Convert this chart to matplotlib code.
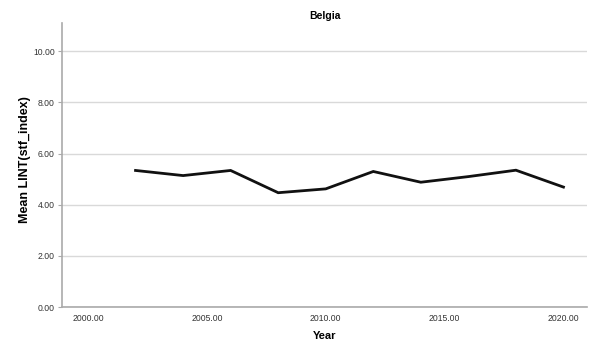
import matplotlib.pyplot as plt
import numpy as np

plt.rcParams['font.family'] = ['Liberation Sans', 'DejaVu Sans']

years = [2002, 2004, 2006, 2008, 2010, 2012, 2014, 2016, 2018, 2020]
mean_stf = [5.34, 5.14, 5.34, 4.47, 4.62, 5.30, 4.88, 5.10, 5.35, 4.69]
xticks = [2000, 2005, 2010, 2015, 2020]
yticks = [0, 2, 4, 6, 8, 10]

fig = plt.figure(figsize=(5.89, 3.49), dpi=100)
ax = fig.add_axes([0.105, 0.12, 0.892, 0.814])

ax.plot(years, mean_stf, color='#111111', lw=2.0, solid_joinstyle='miter')

ax.set_xlim(1998.9, 2021.0)
ax.set_ylim(0, 11.1)
ax.set_xticks(xticks)
ax.set_xticklabels(['%.2f' % v for v in xticks])
ax.set_yticks(yticks)
ax.set_yticklabels(['%.2f' % v for v in yticks])
ax.tick_params(axis='both', labelsize=6.2, colors='#333333')
ax.tick_params(axis='x', length=0, pad=5)
ax.tick_params(axis='y', length=3, width=0.8, color='#aaaaaa', pad=2)

ax.grid(axis='y', color='#d9d9d9', lw=1.0)
ax.set_axisbelow(True)
for s in ['top', 'right']:
    ax.spines[s].set_visible(False)
for s in ['left', 'bottom']:
    ax.spines[s].set_color('#aaaaaa')
    ax.spines[s].set_linewidth(1.2)

ax.set_title('Belgia', fontsize=7.5, fontweight='bold', pad=3)
ax.set_xlabel('Year', fontsize=8, fontweight='bold', labelpad=6)
ax.set_ylabel('Mean LINT(stf_index)', fontsize=9, fontweight='bold')
ax.yaxis.set_label_coords(-0.058, 0.52)

fig.savefig('out.png', dpi=100)
